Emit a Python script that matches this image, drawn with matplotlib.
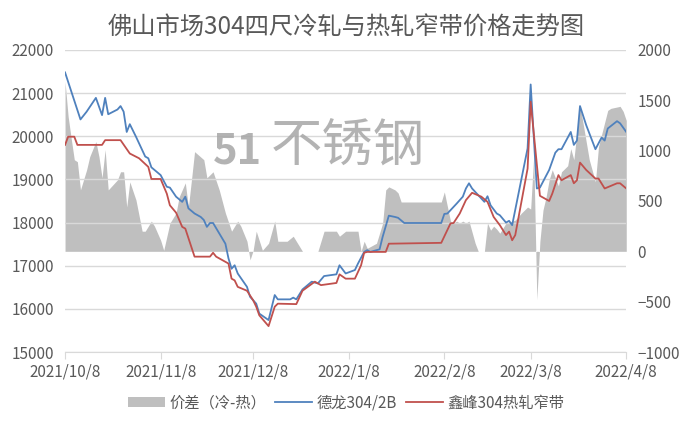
"""Foshan 304 cold-rolled vs hot-rolled narrow strip price chart."""

import matplotlib
matplotlib.use("Agg")
import matplotlib.pyplot as plt
import pandas as pd
from matplotlib.lines import Line2D
from matplotlib.patches import Patch

plt.rcParams["font.family"] = ["Noto Sans CJK SC", "DejaVu Sans"]

TITLE = "佛山市场304四尺冷轧与热轧窄带价格走势图"
BLUE_NAME = "德龙304/2B"
RED_NAME = "鑫峰304热轧窄带"
GAP_NAME = "价差（冷-热）"

tick_dates = ["2021-10-08", "2021-11-08", "2021-12-08", "2022-01-08",
              "2022-02-08", "2022-03-08", "2022-04-08"]
tick_labels = ["2021/10/8", "2021/11/8", "2021/12/8", "2022/1/8",
               "2022/2/8", "2022/3/8", "2022/4/8"]

blue_dates = [
    "2021-10-08", "2021-10-13", "2021-10-15", "2021-10-18", "2021-10-20",
    "2021-10-21", "2021-10-22", "2021-10-25", "2021-10-26", "2021-10-27",
    "2021-10-28", "2021-10-29", "2021-10-31", "2021-11-03", "2021-11-04",
    "2021-11-05", "2021-11-08", "2021-11-10", "2021-11-11", "2021-11-13",
    "2021-11-15", "2021-11-16", "2021-11-17", "2021-11-19", "2021-11-21",
    "2021-11-22", "2021-11-23", "2021-11-24", "2021-11-25", "2021-11-29",
    "2021-11-30", "2021-12-01", "2021-12-02", "2021-12-03", "2021-12-06",
    "2021-12-07", "2021-12-09", "2021-12-10", "2021-12-13", "2021-12-15",
    "2021-12-16", "2021-12-20", "2021-12-21", "2021-12-22", "2021-12-24",
    "2021-12-27", "2021-12-29", "2021-12-31", "2022-01-04", "2022-01-05",
    "2022-01-07", "2022-01-10", "2022-01-11", "2022-01-13", "2022-01-14",
    "2022-01-15", "2022-01-18", "2022-01-19", "2022-01-21", "2022-01-23",
    "2022-01-24", "2022-01-26", "2022-02-07", "2022-02-08", "2022-02-09",
    "2022-02-12", "2022-02-14", "2022-02-15", "2022-02-16", "2022-02-17",
    "2022-02-21", "2022-02-22", "2022-02-23", "2022-02-25", "2022-02-26",
    "2022-02-28", "2022-03-01", "2022-03-02", "2022-03-07", "2022-03-08",
    "2022-03-10", "2022-03-11", "2022-03-14", "2022-03-16", "2022-03-17",
    "2022-03-18", "2022-03-21", "2022-03-22", "2022-03-23", "2022-03-24",
    "2022-03-26", "2022-03-29", "2022-03-31", "2022-04-01", "2022-04-02",
    "2022-04-05", "2022-04-06", "2022-04-08",
]
blue_values = [
    21480, 20390, 20570, 20890, 20490, 20890, 20510, 20620, 20700, 20570,
    20100, 20280, 19990, 19530, 19490, 19280, 19100, 18830, 18810, 18600,
    18480, 18600, 18330, 18210, 18130, 18060, 17900, 17990, 17990, 17510,
    17170, 16930, 17010, 16820, 16510, 16280, 16120, 15890, 15740, 16320,
    16220, 16220, 16260, 16220, 16450, 16630, 16590, 16760, 16800, 17010,
    16820, 16900, 17050, 17320, 17360, 17320, 17380, 17670, 18160, 18130,
    18110, 17990, 17990, 18200, 18210, 18440, 18600, 18790, 18910, 18790,
    18480, 18610, 18400, 18210, 18170, 18000, 18040, 17940, 19720, 21200,
    18790, 18810, 19220, 19620, 19700, 19700, 20100, 19800, 19900, 20700,
    20260, 19700, 19970, 19900, 20180, 20350, 20300, 20100,
]

red_dates = [
    "2021-10-08", "2021-10-09", "2021-10-11", "2021-10-12", "2021-10-20",
    "2021-10-21", "2021-10-26", "2021-10-29", "2021-11-01", "2021-11-04",
    "2021-11-05", "2021-11-08", "2021-11-10", "2021-11-11", "2021-11-13",
    "2021-11-15", "2021-11-16", "2021-11-19", "2021-11-24", "2021-11-25",
    "2021-11-26", "2021-11-28", "2021-11-30", "2021-12-01", "2021-12-02",
    "2021-12-03", "2021-12-06", "2021-12-08", "2021-12-09", "2021-12-10",
    "2021-12-13", "2021-12-15", "2021-12-16", "2021-12-22", "2021-12-24",
    "2021-12-28", "2021-12-30", "2022-01-04", "2022-01-05", "2022-01-07",
    "2022-01-10", "2022-01-12", "2022-01-13", "2022-01-14", "2022-01-20",
    "2022-01-21", "2022-02-07", "2022-02-10", "2022-02-11", "2022-02-13",
    "2022-02-15", "2022-02-17", "2022-02-20", "2022-02-22", "2022-02-24",
    "2022-02-26", "2022-02-28", "2022-03-01", "2022-03-02", "2022-03-03",
    "2022-03-07", "2022-03-08", "2022-03-11", "2022-03-14", "2022-03-15",
    "2022-03-17", "2022-03-18", "2022-03-21", "2022-03-22", "2022-03-23",
    "2022-03-24", "2022-03-26", "2022-03-29", "2022-03-30", "2022-04-01",
    "2022-04-05", "2022-04-06", "2022-04-08",
]
red_values = [
    19800, 19990, 19990, 19800, 19800, 19910, 19910, 19600, 19490, 19290,
    19010, 19010, 18670, 18400, 18230, 17900, 17860, 17210, 17210, 17300,
    17210, 17130, 17050, 16700, 16660, 16510, 16420, 16200, 16050, 15850,
    15600, 16050, 16120, 16110, 16420, 16630, 16550, 16600, 16800, 16700,
    16700, 17010, 17300, 17320, 17320, 17510, 17530, 17980, 17990, 18210,
    18520, 18690, 18600, 18480, 18130, 17940, 17710, 17790, 17590, 17710,
    19250, 20800, 18620, 18500, 18670, 19100, 18980, 19100, 18910, 18980,
    19390, 19220, 19020, 19020, 18790, 18910, 18910, 18790,
]

gap_dates = [
    "2021-10-08", "2021-10-09", "2021-10-10", "2021-10-11", "2021-10-12",
    "2021-10-13", "2021-10-15", "2021-10-16", "2021-10-18", "2021-10-19",
    "2021-10-20", "2021-10-21", "2021-10-22", "2021-10-25", "2021-10-26",
    "2021-10-27", "2021-10-28", "2021-10-29", "2021-10-31", "2021-11-02",
    "2021-11-03", "2021-11-05", "2021-11-06", "2021-11-08", "2021-11-09",
    "2021-11-11", "2021-11-13", "2021-11-14", "2021-11-16", "2021-11-17",
    "2021-11-18", "2021-11-19", "2021-11-22", "2021-11-23", "2021-11-25",
    "2021-11-27", "2021-11-29", "2021-12-01", "2021-12-03", "2021-12-04",
    "2021-12-06", "2021-12-07", "2021-12-08", "2021-12-09", "2021-12-11",
    "2021-12-13", "2021-12-15", "2021-12-16", "2021-12-19", "2021-12-21",
    "2021-12-22", "2021-12-24", "2021-12-29", "2021-12-31", "2022-01-04",
    "2022-01-05", "2022-01-07", "2022-01-11", "2022-01-12", "2022-01-13",
    "2022-01-14", "2022-01-17", "2022-01-19", "2022-01-20", "2022-01-21",
    "2022-01-23", "2022-01-24", "2022-01-25", "2022-02-07", "2022-02-08",
    "2022-02-10", "2022-02-11", "2022-02-12", "2022-02-13", "2022-02-14",
    "2022-02-15", "2022-02-16", "2022-02-18", "2022-02-19", "2022-02-21",
    "2022-02-22", "2022-02-23", "2022-02-24", "2022-02-25", "2022-02-26",
    "2022-02-28", "2022-03-03", "2022-03-05", "2022-03-07", "2022-03-08",
    "2022-03-09", "2022-03-10", "2022-03-11", "2022-03-12", "2022-03-13",
    "2022-03-14", "2022-03-15", "2022-03-17", "2022-03-18", "2022-03-20",
    "2022-03-21", "2022-03-22", "2022-03-24", "2022-03-27", "2022-03-29",
    "2022-03-30", "2022-04-02", "2022-04-03", "2022-04-06", "2022-04-07",
    "2022-04-08",
]
gap_values = [
    1685, 1340, 1120, 910, 890, 610, 810, 940, 1090, 940,
    730, 1010, 610, 710, 790, 790, 440, 690, 510, 200,
    200, 300, 250, 110, 10, 280, 380, 540, 680, 440,
    710, 990, 910, 730, 790, 610, 380, 200, 300, 250,
    100, -85, 10, 200, 10, 80, 300, 100, 100, 150,
    100, 0, 0, 200, 200, 150, 200, 200, 0, 100,
    30, 80, 280, 610, 640, 610, 580, 490, 490, 590,
    300, 280, 300, 280, 300, 280, 300, 80, 0, 0,
    280, 210, 250, 220, 180, 280, 310, 380, 440, 420,
    950, -480, 100, 410, 540, 710, 810, 650, 790, 850,
    1020, 910, 1450, 910, 690, 1040, 1400, 1420, 1440, 1390,
    1300,
]

TEXT = "#595959"
GRID = "#d9d9d9"


def main() -> None:
    fig = plt.figure(figsize=(6.92, 4.26), dpi=100)
    ax = fig.add_axes([0.094, 0.1737, 0.811, 0.709])
    ax2 = ax.twinx()

    # area on the right axis, kept behind the price lines
    ax2.fill_between(pd.to_datetime(gap_dates), gap_values, 0,
                     color="#bfbfbf", linewidth=0)
    ax.set_zorder(ax2.get_zorder() + 1)
    ax.patch.set_visible(False)

    ax.plot(pd.to_datetime(blue_dates), blue_values, color="#4f81bd", lw=1.3)
    ax.plot(pd.to_datetime(red_dates), red_values, color="#c0504d", lw=1.3)

    ax.set_ylim(15000, 22000)
    ax.set_yticks(range(15000, 22001, 1000))
    ax2.set_ylim(-1000, 2000)
    ax2.set_yticks(range(-1000, 2001, 500))
    ax.set_xlim(pd.Timestamp(tick_dates[0]), pd.Timestamp(tick_dates[-1]))
    ax.set_xticks(pd.to_datetime(tick_dates))
    ax.set_xticklabels(tick_labels)

    ax.grid(axis="y", color=GRID, lw=1)
    for a in (ax, ax2):
        for side in ("left", "right", "top", "bottom"):
            a.spines[side].set_visible(False)
        a.tick_params(axis="y", length=0, labelsize=11, colors=TEXT, pad=8)
    ax.spines["bottom"].set_visible(True)
    ax.spines["bottom"].set_color(GRID)
    ax.tick_params(axis="x", length=5, color=GRID, labelsize=11,
                   labelcolor=TEXT, pad=3)

    fig.text(0.5, 0.935, TITLE, ha="center", va="center",
             fontsize=17.5, color=TEXT)

    # watermark
    fig.text(0.343, 0.645, "51", ha="center", va="center", fontsize=30,
             fontweight="bold", style="italic", color="#a6a6a6", alpha=0.85,
             zorder=10)
    fig.text(0.502, 0.655, "不锈钢", ha="center", va="center", fontsize=37,
             color="#a6a6a6", alpha=0.85, zorder=10)

    handles = [
        Patch(facecolor="#bfbfbf", edgecolor="none"),
        Line2D([], [], color="#4f81bd", lw=1.3),
        Line2D([], [], color="#c0504d", lw=1.3),
    ]
    fig.legend(handles, [GAP_NAME, BLUE_NAME, RED_NAME], loc="center",
               bbox_to_anchor=(0.5, 0.054), ncol=3, frameon=False,
               fontsize=11, labelcolor=TEXT, handlelength=2.4,
               handletextpad=0.3, columnspacing=0.6)

    fig.savefig("out.png", dpi=100)


if __name__ == "__main__":
    main()
